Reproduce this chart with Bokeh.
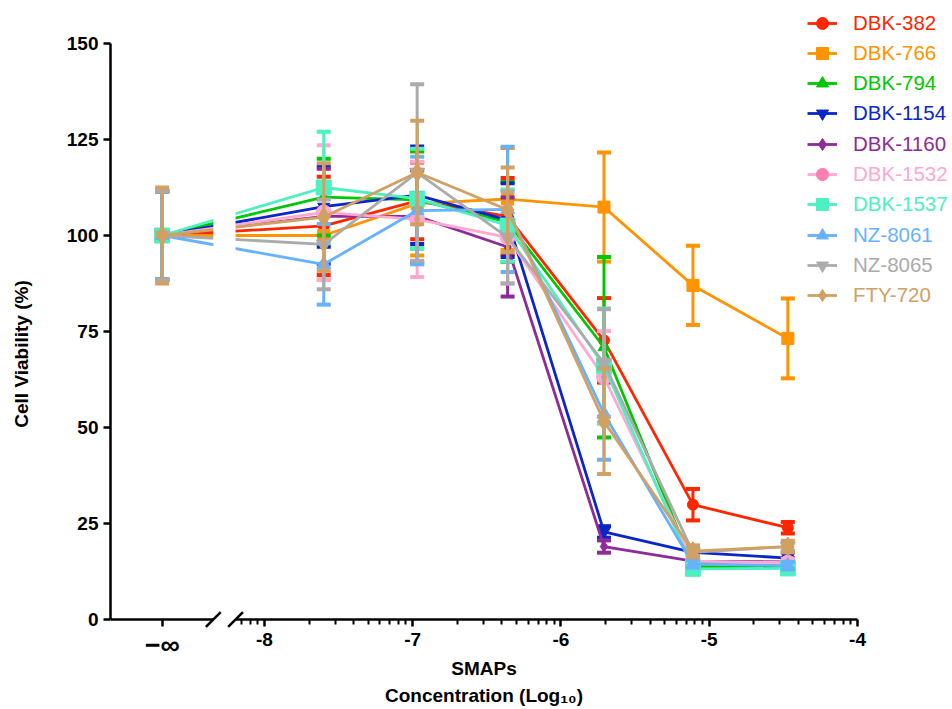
import numpy as np
from bokeh.plotting import figure
from bokeh.models import (LinearAxis, FixedTicker, Range1d, Legend, LegendItem,
                          ColumnDataSource)
from bokeh.embed import file_html
from bokeh.resources import INLINE

# ---------------- data ----------------
# log10 concentration; the first point is the untreated control (log = -inf),
# shown at the left of the axis break
x_log = [-8.69, -7.60, -6.97, -6.36, -5.71, -5.11, -4.47]
inf_position = -8.69

series_names = ["DBK-382", "DBK-766", "DBK-794", "DBK-1154", "DBK-1160",
                "DBK-1532", "DBK-1537", "NZ-8061", "NZ-8065", "FTY-720"]
series_colors = ["#FF2600", "#FF9300", "#00C800", "#0A26C8", "#8E2A99",
                 "#FFA8D0", "#4DF0C0", "#66B2FF", "#ABABAB", "#D2A062"]

dbk382 = [100, 102.5, 109.0, 105.0, 72.7, 29.9, 23.9]
dbk766 = [100, 100.0, 108.3, 109.5, 107.4, 87.0, 73.2]
dbk794 = [100, 110.0, 109.3, 103.5, 70.9, 13.8, 13.5]
dbk1154 = [100, 107.5, 110.5, 104.0, 22.8, 17.5, 16.0]
dbk1160 = [100, 105.0, 105.0, 97.0, 19.0, 15.2, 15.0]
dbk1532 = [100, 106.0, 104.2, 99.5, 63.1, 15.2, 14.8]
dbk1537 = [100, 112.5, 109.6, 102.6, 66.0, 13.2, 13.3]
nz8061 = [100, 92.5, 106.5, 106.8, 53.6, 14.5, 14.0]
nz8065 = [100, 97.7, 116.4, 99.5, 66.8, 17.5, 19.0]
fty720 = [100, 104.8, 116.4, 106.7, 51.6, 17.8, 19.0]

sd382 = [11.5, 12.8, 10.0, 10.0, 11.0, 4.1, 1.5]
sd766 = [11.5, 11.5, 13.5, 13.3, 14.2, 10.3, 10.4]
sd794 = [11.5, 10.0, 12.7, 10.4, 23.5, 1.0, 1.0]
sd1154 = [11.5, 10.4, 12.7, 9.6, 1.5, 1.5, 1.5]
sd1160 = [11.5, 12.4, 12.0, 12.9, 1.6, 1.0, 1.0]
sd1532 = [11.5, 17.5, 15.0, 12.0, 12.0, 1.0, 1.0]
sd1537 = [11.5, 14.5, 13.0, 9.4, 15.0, 1.0, 1.0]
sd8061 = [11.5, 10.5, 14.0, 16.3, 12.0, 1.0, 1.0]
sd8065 = [11.5, 11.7, 23.0, 12.0, 14.0, 1.0, 1.0]
sd720 = [12.5, 14.0, 13.5, 11.0, 13.7, 1.5, 1.5]

y_ticks = [0, 25, 50, 75, 100, 125, 150]
x_ticks = [-8, -7, -6, -5, -4]

values = [dbk382, dbk766, dbk794, dbk1154, dbk1160, dbk1532, dbk1537, nz8061, nz8065, fty720]
errors = [sd382, sd766, sd794, sd1154, sd1160, sd1532, sd1537, sd8061, sd8065, sd720]

# ---------------- styling ----------------
FONT = "Liberation Sans"
markers = ["circle", "square", "triangle", "inverted_triangle", "diamond",
           "circle", "square", "triangle", "inverted_triangle", "diamond"]
msizes = [11, 12, 12, 12, 11, 15, 15, 14, 15, 19]

W, H = 950, 707
x_start, x_end = -9.0384, -3.3729
y_start, y_end = -22.917, 161.198
break_left, break_right = -8.345, -8.195

p = figure(width=W, height=H, output_backend="svg", toolbar_location=None,
           x_range=Range1d(x_start, x_end), y_range=Range1d(y_start, y_end),
           x_axis_type=None, min_border_left=110, min_border_right=0,
           min_border_top=0, min_border_bottom=0)
p.outline_line_color = None
p.grid.visible = False
p.background_fill_color = "white"

# y axis
ya = p.yaxis[0]
ya.bounds = (0, 150)
ya.ticker = FixedTicker(ticks=y_ticks)
ya.minor_tick_line_color = None
ya.axis_line_width = 2.5
ya.major_tick_line_width = 2.5
ya.major_tick_out = 7
ya.major_tick_in = 0
ya.major_label_text_font = FONT
ya.major_label_text_font_style = "bold"
ya.major_label_text_font_size = "19px"
ya.major_label_text_color = "black"
ya.major_label_standoff = 5
ya.axis_label = "Cell Viability (%)"
ya.axis_label_text_font = FONT
ya.axis_label_text_font_style = "bold"
ya.axis_label_text_font_size = "19px"
ya.axis_label_text_color = "black"
ya.axis_label_standoff = 32

def style_x(ax):
    ax.fixed_location = 0
    ax.axis_line_width = 2.5
    ax.major_tick_line_width = 2.5
    ax.minor_tick_line_width = 2.0
    ax.major_tick_out = 7
    ax.major_tick_in = 0
    ax.minor_tick_out = 5
    ax.minor_tick_in = 0
    ax.major_label_text_font = FONT
    ax.major_label_text_font_style = "bold"
    ax.major_label_text_font_size = "19px"
    ax.major_label_text_color = "black"
    ax.major_label_standoff = 7

minor = [np.log10(k) + d for d in range(-9, -4) for k in range(2, 10)]
minor = [m for m in minor if break_right < m < -4]
main_ax = LinearAxis(ticker=FixedTicker(ticks=x_ticks, minor_ticks=minor),
                     bounds=(break_right, -4))
style_x(main_ax)
main_ax.major_label_overrides = {t: str(t) for t in x_ticks}
p.add_layout(main_ax, "below")

inf_ax = LinearAxis(ticker=FixedTicker(ticks=[inf_position]), bounds=(x_start, break_left))
style_x(inf_ax)
inf_ax.major_label_overrides = {inf_position: "\u2212\u221e"}
inf_ax.major_label_text_font_size = "27px"
inf_ax.major_label_standoff = 4
p.add_layout(inf_ax, "below")

title_ax = LinearAxis(ticker=FixedTicker(ticks=[]), bounds=(x_start, -4))
title_ax.fixed_location = 0
title_ax.axis_line_color = None
title_ax.major_tick_line_color = None
title_ax.minor_tick_line_color = None
title_ax.axis_label = "SMAPs\nConcentration (Log\u2081\u2080)"
title_ax.axis_label_text_font = FONT
title_ax.axis_label_text_font_style = "bold"
title_ax.axis_label_text_font_size = "19px"
title_ax.axis_label_text_color = "black"
title_ax.axis_label_text_line_height = 1.3
title_ax.axis_label_standoff = 38
p.add_layout(title_ax, "below")

# ---------------- series ----------------
leg_handles = []
for name, col, mk, ms, ys, es in zip(series_names, series_colors, markers, msizes, values, errors):
    ys = np.array(ys, dtype=float)
    es = np.array(es, dtype=float)
    src = ColumnDataSource(dict(x=x_log, y=ys, lo=ys - es, hi=ys + es))
    p.segment(x0="x", y0="lo", x1="x", y1="hi", source=src, line_color=col, line_width=3)
    p.scatter(x="x", y="hi", source=src, marker="dash", size=14, line_color=col, line_width=4)
    p.scatter(x="x", y="lo", source=src, marker="dash", size=14, line_color=col, line_width=4)
    lr = p.line(x="x", y="y", source=src, line_color=col, line_width=2.8)
    rs = [lr]
    mr = p.scatter(x="x", y="y", source=src, marker=mk, size=ms, fill_color=col, line_color=col)
    rs.append(mr)
    if name == "DBK-1532":
        dr = p.scatter(x="x", y="y", source=src, marker="circle", size=5,
                       fill_color="#FF7FB2", line_color="#FF7FB2")
        rs.append(dr)
    leg_handles.append((name, col, rs))

# axis break: gap in the lines and the two slashes
p.quad(left=[break_left], right=[break_right], bottom=[-3], top=[y_end],
       fill_color="white", line_color=None)
dx, dy = 0.05, 1.95
p.segment(x0=[break_left - dx, break_right - dx], y0=[-dy, -dy],
          x1=[break_left + dx, break_right + dx], y1=[dy, dy],
          line_color="black", line_width=2.5)

# ---------------- legend: one per series so each label has its own colour ----------------
frame_bottom_page = H
gh = 30
for i, (name, col, rs) in enumerate(leg_handles):
    yc = 22.5 + i * 30.3
    leg = Legend(items=[LegendItem(label=name, renderers=rs)],
                 location=(697, frame_bottom_page - (yc + gh / 2)),
                 label_text_color=col, label_text_font=FONT,
                 label_text_font_size="20.5px", glyph_width=30, glyph_height=gh,
                 label_height=gh, label_standoff=16, padding=0, margin=0, spacing=0,
                 border_line_alpha=0, background_fill_alpha=0)
    p.add_layout(leg)

open("out.html", "w").write(file_html(p, INLINE))
